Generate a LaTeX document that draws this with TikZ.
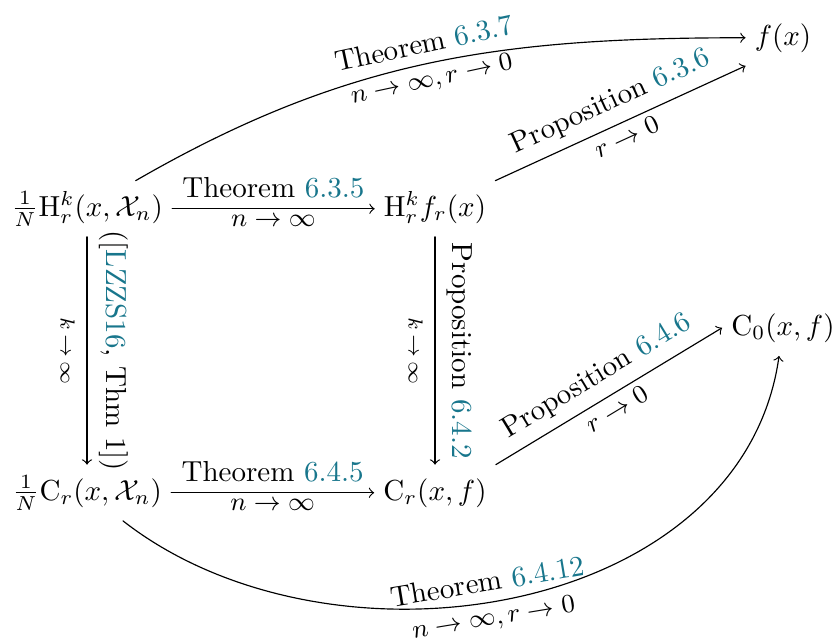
\documentclass[tikz,border=0pt]{standalone}
\usepackage{amsmath}
\definecolor{linkteal}{RGB}{24,118,140}
\newcommand{\rf}[1]{\textcolor{linkteal}{#1}}
\begin{document}
\begin{tikzpicture}[x=0.345pt,y=0.345pt,line cap=round,line join=round,>=to,
		obj/.style={anchor=base,inner sep=3pt,text height=9pt,text depth=4pt},
		arr/.style={->},
		lim/.style={font=\small,inner sep=2pt}]
			\useasboundingbox (0,0) rectangle (836,-641);
			% the six objects
			\node[obj] (A) at (87,-216) {$\frac{1}{N}\mathrm{H}^k_r(x,\mathcal{X}_n)$};
			\node[obj] (B) at (435,-216) {$\mathrm{H}^k_r f_r(x)$};
			\node[obj] (C) at (87,-500) {$\frac{1}{N}\mathrm{C}_r(x,\mathcal{X}_n)$};
			\node[obj] (D) at (435,-500) {$\mathrm{C}_r(x,f)$};
			\node[obj] (F) at (783,-45) {$f(x)$};
			\node[obj] (G) at (783,-335) {$\mathrm{C}_0(x,f)$};
			% square
			\draw[arr] (A) -- node[above]{Theorem \rf{6.3.5}} node[below,lim]{$n\to\infty$} (B);
			\draw[arr] (C) -- node[above]{Theorem \rf{6.4.5}} node[below,lim]{$n\to\infty$} (D);
			\draw[arr] (A) -- node[anchor=north,rotate=-90,inner sep=4pt]{$\scriptstyle k\,\to\,\infty$} node[anchor=south,rotate=-90,inner sep=4pt]{([\rf{LZZS16}, Thm 1])} (C);
			\draw[arr] (B) -- node[anchor=north,rotate=-90,inner sep=4pt]{$\scriptstyle k\,\to\,\infty$} node[anchor=south,rotate=-90,inner sep=4pt]{Proposition \rf{6.4.2}} (D);
			% r -> 0
			\draw[arr] (B.north east) -- node[above,sloped]{Proposition \rf{6.3.6}} node[below,sloped,lim]{$r\to0$} (F.south west);
			\draw[arr] (D.north east) -- node[above,sloped]{Proposition \rf{6.4.6}} node[below,sloped,lim]{$r\to0$} (G.west);
			% both limits
			\draw[arr] (A) to[out=30,in=180] node[pos=0.5,above,sloped]{Theorem \rf{6.3.7}} node[pos=0.5,below,sloped,lim]{$n\to\infty,r\to0$} (F);
			\draw[arr] (C) to[out=-38,in=-98] node[pos=0.47,above,sloped]{Theorem \rf{6.4.12}} node[pos=0.47,below,sloped,lim]{$n\to\infty,r\to0$} (G);
		\end{tikzpicture}
\end{document}
